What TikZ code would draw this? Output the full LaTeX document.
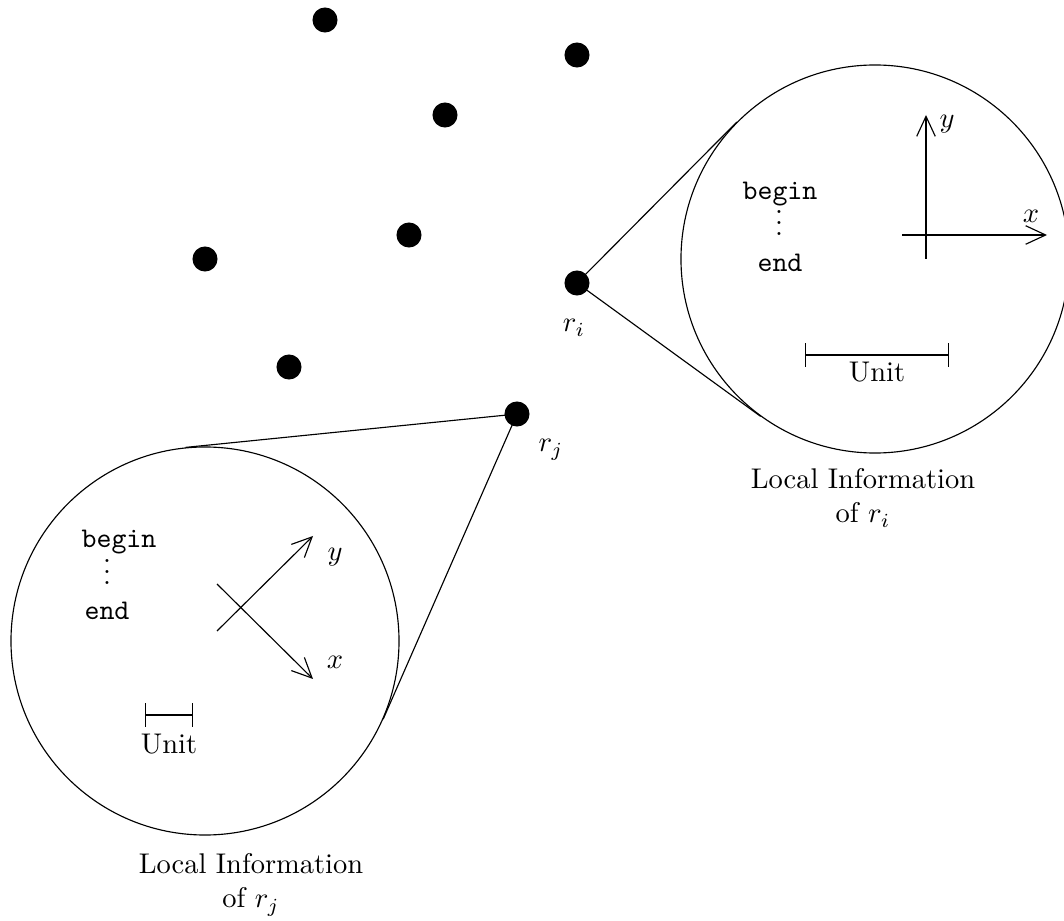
\documentclass[tikz,border=0pt]{standalone}
\usetikzlibrary{arrows.meta,calc}
\tikzset{
  robot/.style={circle,fill=black,inner sep=0pt,minimum size=8.8pt},
  view/.style={circle,draw,line width=0.4pt,inner sep=0pt,minimum size=136.2pt},
  axis/.style={-{Straight Barb[length=7pt,width=6.5pt]},line width=0.4pt},
  unitbar/.style={{Bar[width=8.4pt]}-{Bar[width=8.4pt]},line width=0.4pt},
  code/.style={font=\ttfamily,inner sep=0pt,anchor=base},
  lbl/.style={inner sep=0pt,anchor=base},
  dots/.style={lbl,text height=8.6pt,text depth=0pt},
  caption/.style={align=center,inner sep=0pt,anchor=north},
}
\begin{document}
\begin{tikzpicture}[x=0.351pt,y=-0.351pt]
  \useasboundingbox (0,0) rectangle (1064,921);

  % ---- views ----
  \node[view] (vi) at (875,259) {};
  \node[view] (vj) at (205,641) {};

  % ---- robots ----
  \foreach \p [count=\k] in {(325,20),(577,55),(445,115),(409,235),(205,259),(289,367)}
    \node[robot] (r\k) at \p {};
  \node[robot] (ri) at (577,283) {};
  \node[robot] (rj) at (517,414) {};
  \node[lbl] (ril) at (574,332) {$r_i$};
  \node[lbl] (rjl) at (551,452) {$r_j$};

  % ---- zoom lines ----
  \draw (ri.center) -- (tangent cs:node=vi,point={(ri.center)},solution=1);
  \draw (ri.center) -- (tangent cs:node=vi,point={(ri.center)},solution=2);
  \draw (rj.center) -- (tangent cs:node=vj,point={(rj.center)},solution=1);
  \draw (rj.center) -- (tangent cs:node=vj,point={(rj.center)},solution=2);

  % ---- local information of r_i ----
  \node[code] (bi) at (780,200) {begin};
  \node[dots] (di) at (779,236) {$\vdots$};
  \node[code] (ei) at (780,272) {end};
  \draw[axis] (902,235) -- (1047,235) coordinate (xi);
  \draw[axis] (926,259) -- (926,115) coordinate (yi);
  \node[lbl] (xil) at (1031,223) {$x$};
  \node[lbl] (yil) at (947,128) {$y$};
  \draw[unitbar] (805,355) coordinate (ua) -- (949,355) coordinate (ub);
  \node[inner sep=0pt,anchor=north] (uil) at (877,361) {Unit};
  \node[caption] (capi) at (863,468) {Local Information\\of $r_i$};

  % ---- local information of r_j ----
  \node[code] (bj) at (119,548) {begin};
  \node[dots] (dj) at (107,585) {$\vdots$};
  \node[code] (ej) at (107,620) {end};
  \draw[axis] (217,631) -- (313,536) coordinate (yj);
  \draw[axis] (217,584) -- (313,679) coordinate (xj);
  \node[lbl] (yjl) at (335,561) {$y$};
  \node[lbl] (xjl) at (335,669) {$x$};
  \draw[unitbar] (145,715) coordinate (uc) -- (193,715) coordinate (ud);
  \node[inner sep=0pt,anchor=north] (ujl) at (169,733) {Unit};
  \node[caption] (capj) at (251,853) {Local Information\\of $r_j$};
\end{tikzpicture}
\end{document}
